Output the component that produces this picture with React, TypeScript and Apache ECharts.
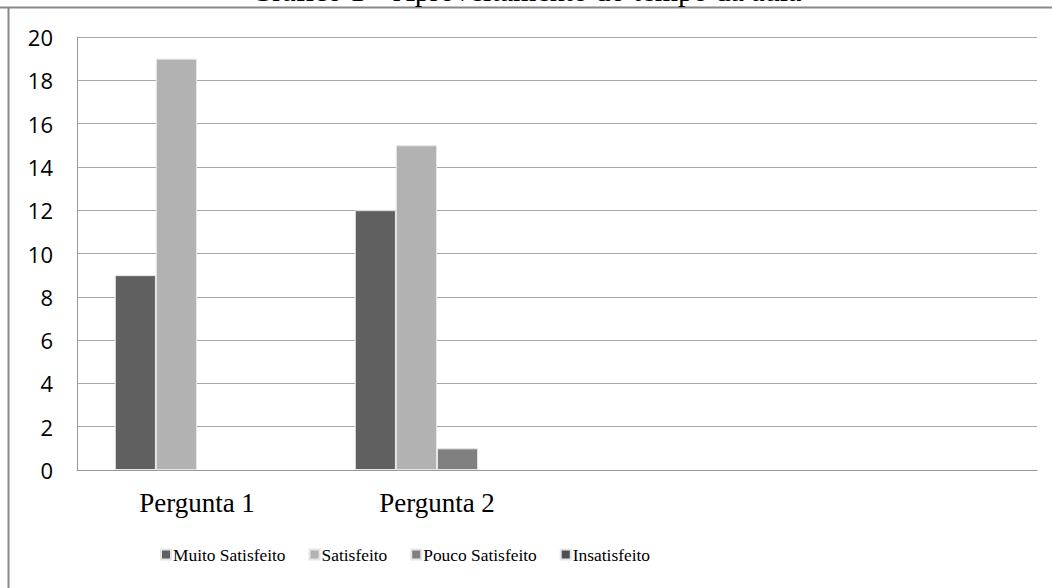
import React, { useEffect, useRef } from "react";
import * as echarts from "echarts";

const categories = ["Pergunta 1", "Pergunta 2", "", ""];
const seriesNames = ["Muito Satisfeito", "Satisfeito", "Pouco Satisfeito", "Insatisfeito"];
const muitoSatisfeito = [9, 12, null, null];
const satisfeito = [19, 15, null, null];
const poucoSatisfeito = [0, 1, null, null];
const insatisfeito = [0, 0, null, null];
const colors = ["#606060", "#b2b2b2", "#808080", "#4f4f4f"];
const titleText = "Gráfico 1 – Aproveitamento do tempo da aula";

export default function App() {
  const ref = useRef<HTMLDivElement>(null);
  useEffect(() => {
    const chart = echarts.init(ref.current!, null, { renderer: "svg" });
    const values = [muitoSatisfeito, satisfeito, poucoSatisfeito, insatisfeito];
    chart.setOption({
      animation: false,
      backgroundColor: "#ffffff",
      graphic: [
        { type: "line", shape: { x1: 0, y1: 7.5, x2: 1052, y2: 7.5 }, style: { stroke: "#888888", lineWidth: 2 } },
        { type: "line", shape: { x1: 8.5, y1: 7, x2: 8.5, y2: 588 }, style: { stroke: "#888888", lineWidth: 2 } },
        {
          type: "text",
          x: 526,
          y: 5,
          style: {
            text: titleText,
            fontFamily: "Liberation Serif",
            fontSize: 30,
            fill: "#000000",
            align: "center",
            verticalAlign: "bottom",
          },
        },
      ],
      legend: {
        bottom: 20,
        left: 155,
        itemWidth: 10,
        itemHeight: 10,
        itemGap: 23,
        icon: "rect",
        textStyle: { fontFamily: "Liberation Serif", fontSize: 17.4, color: "#000", padding: [0, 0, 0, -3] },
        data: seriesNames,
      },
      grid: { left: 77, right: 15, top: 37, bottom: 118, containLabel: false },
      xAxis: {
        type: "category",
        data: categories,
        axisLine: { lineStyle: { color: "#999999", width: 1 } },
        axisTick: { show: false },
        axisLabel: { margin: 19, fontFamily: "Liberation Serif", fontSize: 27, color: "#000" },
      },
      yAxis: {
        type: "value",
        min: 0,
        max: 20,
        interval: 2,
        axisLine: { show: true, lineStyle: { color: "#999999", width: 1 } },
        axisTick: { show: false },
        axisLabel: { margin: 24, fontFamily: "Open Sans", fontSize: 22, color: "#000" },
        splitLine: { lineStyle: { color: "#a8a8a8", width: 1 } },
      },
      series: seriesNames.map((name, i) => ({
        name,
        type: "bar",
        data: values[i].map((v) => (v === 0 ? { value: 0, itemStyle: { borderWidth: 0 } } : v)),
        barGap: "0%",
        barCategoryGap: "31.5%",
        itemStyle: { color: colors[i], borderColor: "#e6e6e6", borderWidth: 1 },
      })),
    });
    return () => chart.dispose();
  }, []);
  return (
    <div
      ref={ref}
      style={{ position: "fixed", left: 0, top: 0, width: 1052, height: 588 }}
    />
  );
}
